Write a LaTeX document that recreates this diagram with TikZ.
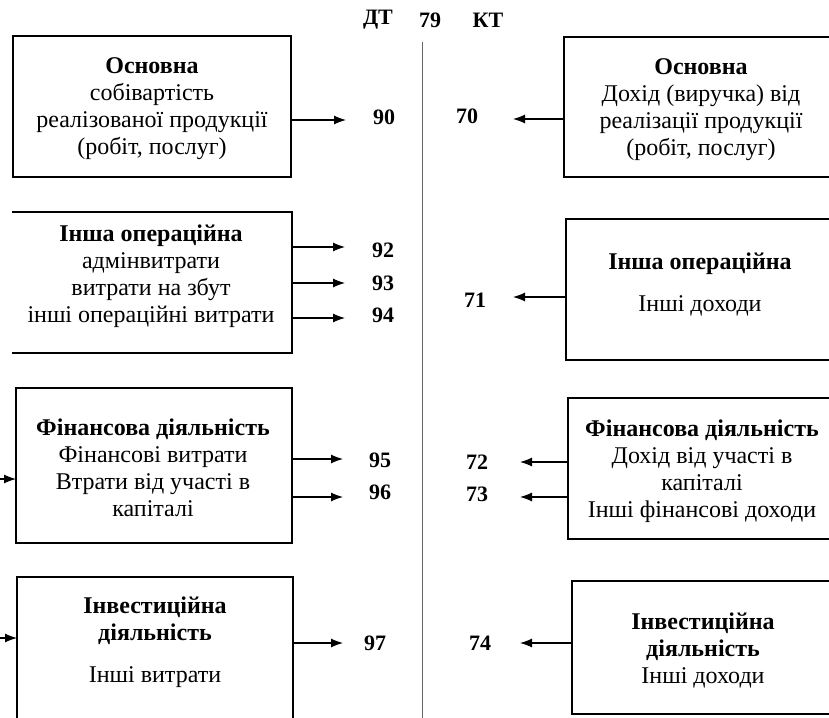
\documentclass[tikz,border=0pt]{standalone}
\usepackage{fontspec}
\setmainfont{Liberation Serif}
\usetikzlibrary{arrows.meta}
\begin{document}
\begin{tikzpicture}[x=1pt,y=-1pt,
  boxline/.style={line width=1.8pt},
  boxnode/.style={draw, boxline, inner sep=0pt, outer sep=0pt, anchor=north west},
  openbox/.style={draw=none, inner sep=0pt, outer sep=0pt, anchor=north west},
  txt/.style={align=center, inner sep=0pt, font=\fontsize{24}{27}\selectfont},
  lbl/.style={inner sep=0pt, font=\fontsize{22}{24}\selectfont\bfseries},
  arr/.style={line width=1.1pt, -{Latex[length=12pt,width=9pt]}},
  axis/.style={line width=1.4pt, draw=black!60}
]
\useasboundingbox (0,0) rectangle (829,717);
\clip (0,0) rectangle (829,717);

% header and central line
\node[lbl] (dt) at (378,20) {ДТ};
\node[lbl] (n79) at (430,20) {79};
\node[lbl] (kt) at (488,20) {КТ};
\coordinate (vtop) at (422.5,42);
\coordinate (vbot) at (422.5,720);
\draw[axis] (vtop) -- (vbot);

% left boxes
\node[boxnode, minimum width=278pt, minimum height=141pt] (b1) at (12.7,36) {};
\node[openbox, minimum width=280pt, minimum height=141pt] (b2) at (12,212) {};
\draw[boxline] (b2.north west) -- (b2.north east) -- (b2.south east) -- (b2.south west);
\node[boxnode, minimum width=276pt, minimum height=155pt] (fl) at (16,388) {};
\node[boxnode, minimum width=276pt, minimum height=150pt] (il) at (17,577) {};

% right boxes
\node[boxnode, minimum width=280pt, minimum height=140pt] (r1) at (564,37) {};
\node[boxnode, minimum width=280pt, minimum height=141pt] (r2) at (566,219) {};
\node[boxnode, minimum width=280pt, minimum height=141pt] (rf) at (568,398) {};
\node[boxnode, minimum width=280pt, minimum height=133pt] (ri) at (572,581) {};

% texts in boxes
\node[txt] (t1) at (152,109) {\textbf{Основна}\\собівартість\\реалізованої продукції\\(робіт, послуг)};
\node[txt] (t2) at (151,276) {\textbf{Інша операційна}\\адмінвитрати\\витрати на збут\\інші операційні витрати};
\node[txt] (tf) at (153,468) {\textbf{Фінансова діяльність}\\Фінансові витрати\\Втрати від участі в\\капіталі};
\node[txt] (ti) at (155,642) {\textbf{Інвестиційна}\\\textbf{діяльність}\\[15pt]Інші витрати};
\node[txt] (u1) at (701,110) {\textbf{Основна}\\Дохід (виручка) від\\реалізації продукції\\(робіт, послуг)};
\node[txt] (u2) at (700,284) {\textbf{Інша операційна}\\[15pt]Інші доходи};
\node[txt] (uf) at (702,471) {\textbf{Фінансова діяльність}\\Дохід від участі в\\капіталі\\Інші фінансові доходи};
\node[txt] (ui) at (703,650) {\textbf{Інвестиційна}\\\textbf{діяльність}\\Інші доходи};

% account labels
\node[lbl] (l90) at (384,117) {90};
\node[lbl] (l92) at (383,250) {92};
\node[lbl] (l93) at (383,283) {93};
\node[lbl] (l94) at (383,315) {94};
\node[lbl] (l95) at (380,460) {95};
\node[lbl] (l96) at (380,492) {96};
\node[lbl] (l97) at (375,643) {97};
\node[lbl] (l70) at (467,116) {70};
\node[lbl] (l71) at (475,300) {71};
\node[lbl] (l72) at (477,462) {72};
\node[lbl] (l73) at (477,494) {73};
\node[lbl] (l74) at (480,643) {74};

% arrow tips
\coordinate (a90) at (346,120);
\coordinate (a92) at (345,247);
\coordinate (a93) at (345,283);
\coordinate (a94) at (345,318);
\coordinate (a95) at (343,459);
\coordinate (a96) at (343,497);
\coordinate (a97) at (343,643);
\coordinate (a70) at (513,119);
\coordinate (a71) at (513,297);
\coordinate (a72) at (520,462);
\coordinate (a73) at (520,497);
\coordinate (a74) at (520,643);
\coordinate (s1) at (-30,479);
\coordinate (s2) at (-30,638);

\draw[arr] (b1.east |- a90) -- (a90);
\draw[arr] (b2.east |- a92) -- (a92);
\draw[arr] (b2.east |- a93) -- (a93);
\draw[arr] (b2.east |- a94) -- (a94);
\draw[arr] (fl.east |- a95) -- (a95);
\draw[arr] (fl.east |- a96) -- (a96);
\draw[arr] (il.east |- a97) -- (a97);
\draw[arr] (r1.west |- a70) -- (a70);
\draw[arr] (r2.west |- a71) -- (a71);
\draw[arr] (rf.west |- a72) -- (a72);
\draw[arr] (rf.west |- a73) -- (a73);
\draw[arr] (ri.west |- a74) -- (a74);
\draw[arr] (s1) -- (fl.west |- s1);
\draw[arr] (s2) -- (il.west |- s2);
\end{tikzpicture}
\end{document}
